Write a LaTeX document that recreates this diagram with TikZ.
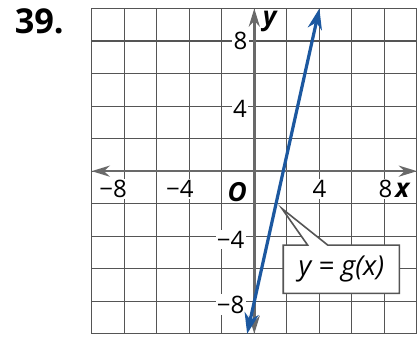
\documentclass[tikz,border=0pt]{standalone}
\usepackage{fontspec}
\setmainfont{Open Sans}
\usetikzlibrary{arrows.meta,shapes.callouts}
\definecolor{gridgray}{RGB}{85,85,85}
\definecolor{axisgray}{RGB}{105,105,105}
\definecolor{lineblue}{RGB}{28,88,160}

\begin{document}
\begin{tikzpicture}[x=0.25cm,y=0.25cm,
  gridline/.style={gridgray,line width=0.5pt},
  axis/.style={axisgray,line width=1.1pt,{Stealth[length=2.8mm,width=1.7mm,inset=0.9mm]}-{Stealth[length=2.8mm,width=1.7mm,inset=0.9mm]}},
  graph/.style={lineblue,line width=1.4pt,{Stealth[length=3.2mm,width=2.2mm,inset=1mm]}-{Stealth[length=3.2mm,width=2.2mm,inset=1mm]}},
  tick/.style={fill=white,inner sep=0.6pt,font=\fontsize{10.5}{12}\selectfont},
  axlabel/.style={inner sep=0.6pt,font=\fontsize{11.5}{13}\selectfont\bfseries\itshape}]
\useasboundingbox (-15.63,-10.15) rectangle (10,10.52);
\fill[white] (-15.63,-10.15) rectangle (10,10.52);
\node[anchor=base west,inner sep=0pt,font=\fontsize{15}{18}\selectfont\bfseries] (num) at (-14.75,8.49) {39.};
\draw[gridline,step=2] (-10,-10) grid (10,10);
\coordinate (xl) at (-10,0);
\coordinate (xr) at (10,0);
\coordinate (yb) at (0,-10);
\coordinate (yt) at (0,10);
\draw[axis] (xl) -- (xr);
\draw[axis] (yb) -- (yt);
% tick labels
\node[tick] (xm8) at (-8.68,-1.1) {−8};
\node[tick] (xm4) at (-4.58,-1.1) {−4};
\node[axlabel,fill=white] (o) at (-1.05,-1.3) {O};
\node[tick] (x4) at (4,-1.1) {4};
\node[tick] (x8) at (8.06,-1.1) {8};
\node[axlabel] (xlab) at (9.1,-1.15) {x};
\node[tick] (y8) at (-0.85,8) {8};
\node[tick] (y4) at (-0.88,3.85) {4};
\node[tick] (ym4) at (-1.45,-4.2) {−4};
\node[tick] (ym8) at (-1.45,-8.2) {−8};
\node[axlabel] (ylab) at (0.95,9.2) {y};
% the line
\coordinate (gb) at (-0.44,-10);
\coordinate (gt) at (4,10);
\draw[graph] (gb) -- (gt);
% callout
\coordinate (tip) at (1.70,-2.30);
\node[rectangle callout,callout absolute pointer={(tip)},callout pointer width=0.31cm,
  draw=gridgray,line width=0.7pt,fill=white,minimum width=1.785cm,minimum height=0.74cm,
  font=\fontsize{12}{14}\selectfont\itshape] (gbox) at (5.35,-6.03) {y = g(x)};
\end{tikzpicture}
\end{document}
